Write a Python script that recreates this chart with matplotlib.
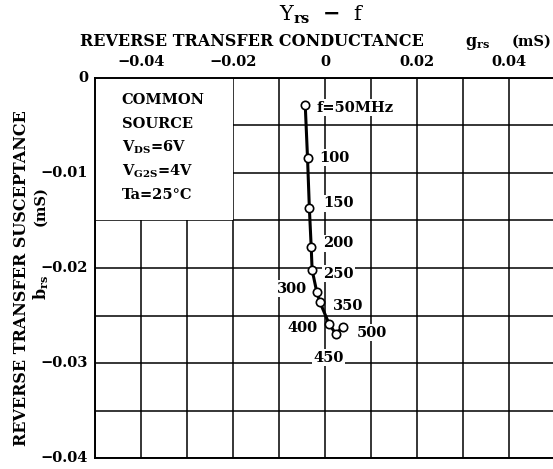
import matplotlib.pyplot as plt
from matplotlib.patches import Rectangle
from matplotlib.ticker import MultipleLocator

plt.rcParams['font.family'] = 'DejaVu Serif'
plt.rcParams['font.weight'] = 'bold'
plt.rcParams['mathtext.fontset'] = 'dejavuserif'
plt.rcParams['mathtext.default'] = 'bf'

# Y_rs - f (mS)
freq_labels = ["f=50MHz", "100", "150", "200", "250", "300", "350", "400", "450", "500"]
g_rs = [-0.0043, -0.0038, -0.0034, -0.0030, -0.0028, -0.0018, -0.0011, 0.0009, 0.0023, 0.0040]
b_rs = [-0.0028, -0.0084, -0.0137, -0.0178, -0.0202, -0.0225, -0.0236, -0.0259, -0.0269, -0.0262]

x_ticks = [-0.04, -0.02, 0, 0.02, 0.04]
x_tick_labels = ["\u22120.04", "\u22120.02", "0", "0.02", "0.04"]
y_ticks = [0, -0.01, -0.02, -0.03, -0.04]
y_tick_labels = ["0", "\u22120.01", "\u22120.02", "\u22120.03", "\u22120.04"]

conditions = ["COMMON", "SOURCE", r"V$_{DS}$=6V", r"V$_{G2S}$=4V", "Ta=25\u00b0C"]

# label offsets (pixels) and alignment for each point label
label_offsets = [(11, -3, "left"), (12, 0, "left"), (14, 5, "left"), (12, 4, "left"),
                 (11, -4, "left"), (-10, 3, "right"), (13, -4, "left"), (-12, -4, "right"),
                 (-7, -24, "center"), (13, -6, "left")]

fig = plt.figure(figsize=(5.53, 4.69), dpi=100)
ax = fig.add_axes([95 / 553, 1 - 458 / 469, 460 / 553, 380 / 469])

ax.set_xlim(-0.05, 0.05)
ax.set_ylim(-0.04, 0)
ax.xaxis.set_major_locator(MultipleLocator(0.01))
ax.yaxis.set_major_locator(MultipleLocator(0.005))
ax.grid(True, color="black", lw=1.1)
ax.set_axisbelow(True)
ax.tick_params(length=0, labelbottom=False, labelleft=False)
for s in ax.spines.values():
    s.set_linewidth(1.4)

for xv, lab in zip(x_ticks, x_tick_labels):
    ax.text(xv, 1.025, lab, transform=ax.get_xaxis_transform(), ha="center", va="bottom", fontsize=10.5)
for yv, lab in zip(y_ticks, y_tick_labels):
    ax.text(-0.0515, yv, lab, ha="right", va="center", fontsize=10.5)

# conditions box covers part of the grid
ax.add_patch(Rectangle((-0.05, -0.015), 0.03, 0.015, facecolor="white", edgecolor="none", zorder=1))
for i, line in enumerate(conditions):
    ax.text(-0.0442, -0.0023 - i * 0.0025, line, fontsize=10.5, va="center", ha="left", zorder=3)

ax.plot(g_rs, b_rs, color="black", lw=2.2, zorder=2)
ax.plot(g_rs, b_rs, "o", ms=6, mfc="white", mec="black", mew=1.2, zorder=4)

for gx, by, lab, (dx, dy, ha) in zip(g_rs, b_rs, freq_labels, label_offsets):
    ax.annotate(lab, (gx, by), xytext=(dx, dy), textcoords="offset pixels", ha=ha, va="center",
                fontsize=10.5, zorder=3,
                bbox=dict(facecolor="white", edgecolor="none", pad=1))

fig.text(322 / 553, 1 - 15 / 469, r"Y$_{\mathrm{rs}}$  $\mathrm{-}$  f", ha="center", va="center",
         fontsize=15, fontweight="normal")
fig.text(80 / 553, 1 - 42 / 469, "REVERSE TRANSFER CONDUCTANCE", ha="left", va="center", fontsize=11.5)
fig.text(465 / 553, 1 - 44 / 469, r"g$_{rs}$", ha="left", va="center", fontsize=11.5)
fig.text(512 / 553, 1 - 42 / 469, "(mS)", ha="left", va="center", fontsize=10.5)
fig.text(22 / 553, 1 - 278 / 469, "REVERSE TRANSFER SUSCEPTANCE", rotation=90,
         ha="center", va="center", fontsize=11.5)
fig.text(41 / 553, 1 - 287 / 469, r"b$_{rs}$", rotation=90, ha="center", va="center", fontsize=11.5)
fig.text(40 / 553, 1 - 206 / 469, "(mS)", rotation=90, ha="center", va="center", fontsize=10.5)

fig.savefig("out.png", dpi=100)
